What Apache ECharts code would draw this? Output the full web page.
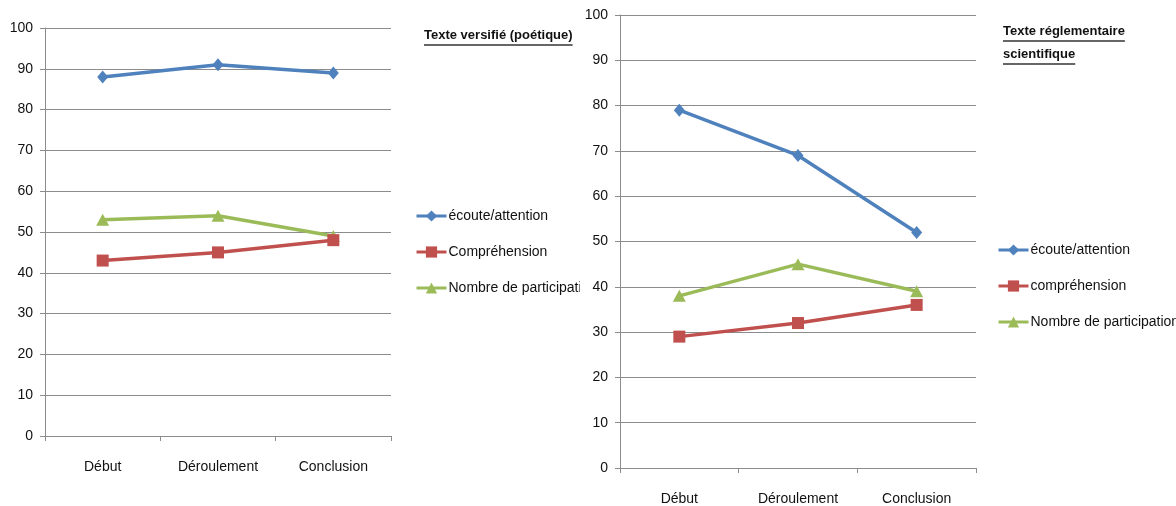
<!DOCTYPE html>
<html>
<head>
<meta charset="utf-8">
<script src="https://cdn.jsdelivr.net/npm/echarts@6/dist/echarts.min.js"></script>
<style>
  html, body { margin: 0; padding: 0; background: #ffffff; }
  #wrap { position: relative; width: 1176px; height: 506px; overflow: hidden; }
  #left { position: absolute; left: 0; top: 0; width: 580px; height: 506px; }
  #right { position: absolute; left: 580px; top: 0; width: 596px; height: 506px; }
</style>
</head>
<body>
<div id="wrap">
  <div id="left"></div>
  <div id="right"></div>
</div>
<script>
// Phases of the lesson (x-axis categories)
const categories = ['Début', 'Déroulement', 'Conclusion'];

// Texte versifié (poétique)
const poemTitle = ['Texte versifié (poétique)'];
const poemNames = ['écoute/attention', 'Compréhension', 'Nombre de participations'];
const poemEcoute = [88, 91, 89];
const poemComprehension = [43, 45, 48];
const poemParticipations = [53, 54, 49];

// Texte réglementaire scientifique
const sciTitle = ['Texte réglementaire', 'scientifique'];
const sciNames = ['écoute/attention', 'compréhension', 'Nombre de participations'];
const sciEcoute = [79, 69, 52];
const sciComprehension = [29, 32, 36];
const sciParticipations = [38, 45, 39];

const FONT = '"Liberation Sans", Arial, sans-serif';
const COLORS = ['#4F81BD', '#C0504D', '#9BBB59'];
const SYMBOLS = ['diamond', 'rect', 'triangle'];
const SYMBOL_SIZES = [[11, 13], 12, [13, 12]];
const GRID_COLOR = '#8c8c8c';
const TEXT_COLOR = '#111111';

const measureCtx = document.createElement('canvas').getContext('2d');
function textWidth(str, font) {
  measureCtx.font = font;
  return measureCtx.measureText(str).width;
}

// Bold title lines with an underline drawn beneath each line
function titleGraphics(lines, x, y0, lineH) {
  const font = 'bold 13px ' + FONT;
  const els = [];
  lines.forEach((line, i) => {
    const y = y0 + i * lineH;
    const w = textWidth(line, font);
    els.push({
      type: 'text', left: x, top: y - 8,
      style: { text: line, font: font, fill: '#111' }
    });
    els.push({
      type: 'line',
      shape: { x1: x, y1: y + 8, x2: x + w, y2: y + 8 },
      style: { stroke: '#333', lineWidth: 1.5 }
    });
  });
  return els;
}

function buildOption(cfg) {
  const data = [cfg.ecoute, cfg.comprehension, cfg.participations];
  return {
    animation: false,
    backgroundColor: '#ffffff',
    textStyle: { fontFamily: FONT },
    grid: { left: cfg.grid.left, top: cfg.grid.top, width: cfg.grid.width, height: cfg.grid.height, containLabel: false },
    legend: {
      orient: 'vertical',
      left: cfg.legend.left,
      top: cfg.legend.top,
      padding: 0,
      itemWidth: 30,
      itemHeight: 14,
      itemGap: 22,
      data: cfg.names,
      lineStyle: { width: 3 },
      textStyle: { fontFamily: FONT, fontSize: 14, color: TEXT_COLOR, padding: [0, 0, 0, -3] }
    },
    xAxis: {
      type: 'category',
      data: categories,
      boundaryGap: true,
      axisLine: { lineStyle: { color: GRID_COLOR, width: 1 } },
      axisTick: { show: true, length: 5, lineStyle: { color: GRID_COLOR } },
      axisLabel: { fontFamily: FONT, fontSize: 14, color: TEXT_COLOR, margin: 24, interval: 0 },
      splitLine: { show: false }
    },
    yAxis: {
      type: 'value',
      min: 0, max: 100, interval: 10,
      axisLine: { show: true, lineStyle: { color: GRID_COLOR, width: 1 } },
      axisTick: { show: true, length: 5, lineStyle: { color: GRID_COLOR } },
      axisLabel: { fontFamily: FONT, fontSize: 14, color: TEXT_COLOR, margin: 12 },
      splitLine: { show: true, lineStyle: { color: GRID_COLOR, width: 1 } }
    },
    series: cfg.names.map((name, i) => ({
      name: name,
      type: 'line',
      data: data[i],
      symbol: SYMBOLS[i],
      symbolSize: SYMBOL_SIZES[i],
      showAllSymbol: true,
      lineStyle: { color: COLORS[i], width: 3.5 },
      itemStyle: { color: COLORS[i] },
      z: 3 - i
    })),
    graphic: titleGraphics(cfg.title, cfg.titlePos.x, cfg.titlePos.y, 23)
  };
}

const left = echarts.init(document.getElementById('left'), null, { renderer: 'canvas' });
left.setOption(buildOption({
  names: poemNames,
  ecoute: poemEcoute,
  comprehension: poemComprehension,
  participations: poemParticipations,
  title: poemTitle,
  titlePos: { x: 424, y: 37 },
  grid: { left: 45, top: 28, width: 346, height: 408 },
  legend: { left: 415, top: 209 }
}));

const right = echarts.init(document.getElementById('right'), null, { renderer: 'canvas' });
right.setOption(buildOption({
  names: sciNames,
  ecoute: sciEcoute,
  comprehension: sciComprehension,
  participations: sciParticipations,
  title: sciTitle,
  titlePos: { x: 423, y: 33 },
  grid: { left: 40, top: 15, width: 356, height: 455 },
  legend: { left: 417, top: 243 }
}));
</script>
</body>
</html>
